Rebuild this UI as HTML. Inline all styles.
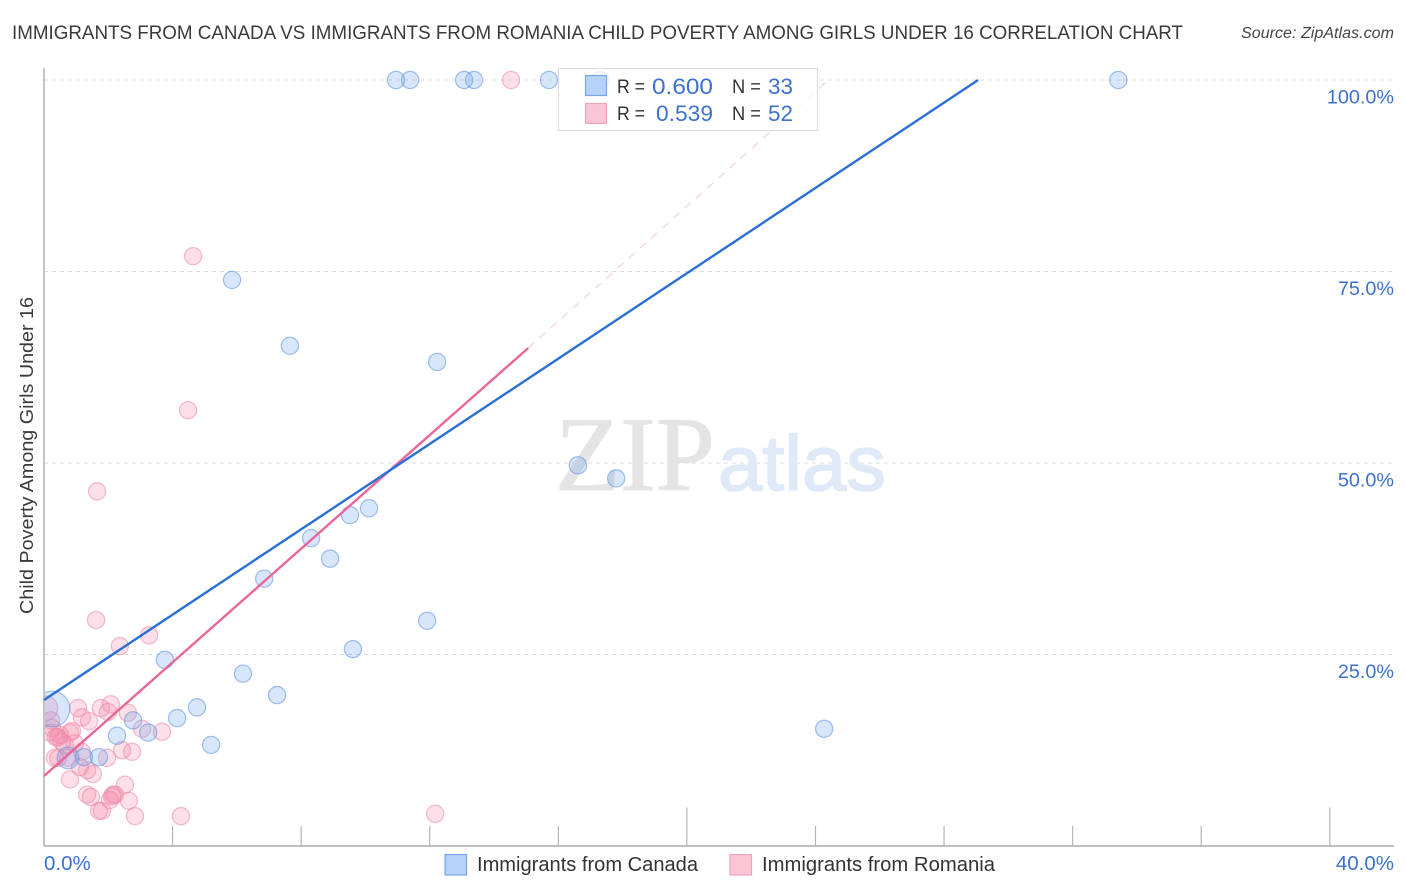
<!DOCTYPE html>
<html lang="en">
<head>
<meta charset="utf-8">
<title>Immigrants from Canada vs Immigrants from Romania Child Poverty Correlation Chart</title>
<style>
html,body{margin:0;padding:0;background:#fff;width:1406px;height:892px;overflow:hidden}
svg{display:block}
text{font-family:"Liberation Sans",sans-serif}
</style>
</head>
<body>
<svg id="chart" xmlns="http://www.w3.org/2000/svg" width="1406" height="892" viewBox="0 0 1406 892">
  <defs><clipPath id="plot-clip"><rect x="45" y="60" width="1349" height="786"/></clipPath></defs>
  <rect x="0" y="0" width="1406" height="892" fill="#fff"/>
  <text x="12" y="39" font-size="19.5" fill="#3a3a3a" textLength="1171" lengthAdjust="spacingAndGlyphs">IMMIGRANTS FROM CANADA VS IMMIGRANTS FROM ROMANIA CHILD POVERTY AMONG GIRLS UNDER 16 CORRELATION CHART</text>
  <text x="1241" y="38" font-size="15.5" font-style="italic" fill="#444" textLength="153" lengthAdjust="spacingAndGlyphs">Source: ZipAtlas.com</text>
  <g id="grid"></g>
  <g>
    <text x="555" y="490" font-size="106" fill="#e4e4e4" stroke="#e4e4e4" stroke-width="1" style="font-family:'Liberation Serif',serif" textLength="160" lengthAdjust="spacingAndGlyphs">ZIP</text>
    <text x="718" y="490" font-size="78" fill="#dfe9f8" stroke="#dfe9f8" stroke-width="1.6" textLength="168" lengthAdjust="spacingAndGlyphs">atlas</text>
  </g>
  <g id="axes"></g>
  <text transform="translate(33,455.5) rotate(-90)" text-anchor="middle" font-size="18.5" fill="#3a3a3a" textLength="317" lengthAdjust="spacingAndGlyphs">Child Poverty Among Girls Under 16</text>
  <g id="marks" clip-path="url(#plot-clip)"></g>
  <g id="lines"></g>
  <g>
    <rect x="558.5" y="68.5" width="259" height="62" fill="#fff" fill-opacity="0.8" stroke="#ddd" stroke-width="1.2"/>
    <rect x="585.5" y="75.5" width="21" height="20" fill="#b6d1f7" stroke="#79a6e4" stroke-width="1.2"/>
    <rect x="585.5" y="103.5" width="21" height="20" fill="#fcc5d6" stroke="#f2a3bb" stroke-width="1.2"/>
    <text x="617" y="93" font-size="19" fill="#333" textLength="28" lengthAdjust="spacingAndGlyphs">R =</text>
    <text x="652" y="94" font-size="22" fill="#3b71cf" textLength="61" lengthAdjust="spacingAndGlyphs">0.600</text>
    <text x="732" y="93" font-size="19" fill="#333" textLength="29" lengthAdjust="spacingAndGlyphs">N =</text>
    <text x="768" y="94" font-size="22" fill="#3b71cf" textLength="25" lengthAdjust="spacingAndGlyphs">33</text>
    <text x="617" y="120" font-size="19" fill="#333" textLength="28" lengthAdjust="spacingAndGlyphs">R =</text>
    <text x="656" y="121" font-size="22" fill="#3b71cf" textLength="57" lengthAdjust="spacingAndGlyphs">0.539</text>
    <text x="732" y="120" font-size="19" fill="#333" textLength="29" lengthAdjust="spacingAndGlyphs">N =</text>
    <text x="768" y="121" font-size="22" fill="#3b71cf" textLength="25" lengthAdjust="spacingAndGlyphs">52</text>
  </g>
  <g>
    <rect x="445" y="854.5" width="21.5" height="20.5" fill="#b6d1f7" stroke="#79a6e4" stroke-width="1.2"/>
    <text x="477" y="871" font-size="20" fill="#333" textLength="221" lengthAdjust="spacingAndGlyphs">Immigrants from Canada</text>
    <rect x="730" y="854.5" width="21.5" height="20.5" fill="#fcc5d6" stroke="#f2a3bb" stroke-width="1.2"/>
    <text x="762" y="871" font-size="20" fill="#333" textLength="233" lengthAdjust="spacingAndGlyphs">Immigrants from Romania</text>
  </g>
</svg>
<script>
// Chart data (percent units)
const yTickValues = [25, 50, 75, 100];
const yTickLabels = ['25.0%', '50.0%', '75.0%', '100.0%'];
const xTickValues = [4, 8, 12, 16, 20, 24, 28, 32, 36, 40];
const xMajorTicks = [20, 40];
const xEndValues = [0, 40];
const xEndLabels = ['0.0%', '40.0%'];

const canadaX = [10.95, 11.39, 13.07, 13.38, 15.71, 17.30, 33.42, 5.85, 7.65, 12.23, 16.61, 17.80, 10.11, 9.52, 8.31, 8.90, 6.85, 11.92, 9.61, 3.76, 6.19, 7.25, 4.76, 4.14, 2.77, 3.24, 2.27, 5.20, 24.27, 1.24, 1.71, 0.75, 0.25];
const canadaY = [100, 100, 100, 100, 100, 100, 100, 73.9, 65.3, 63.2, 49.7, 48.0, 44.1, 43.2, 40.2, 37.5, 34.9, 29.4, 25.7, 24.3, 22.5, 19.7, 18.1, 16.7, 16.4, 14.8, 14.4, 13.2, 15.3, 11.6, 11.6, 11.5, 17.9];
const canadaWeight = [1, 1, 1, 1, 1, 1, 1, 1, 1, 1, 1, 1, 1, 1, 1, 1, 1, 1, 1, 1, 1, 1, 1, 1, 1, 1, 1, 1, 1, 1, 1, 1.6, 4.3];

const romaniaX = [14.53, 4.64, 4.48, 1.65, 1.62, 3.27, 2.36, 1.06, 1.77, 2.08, 1.18, 1.40, 1.99, 2.61, 3.05, 3.67, 0.87, 0.22, 0.19, 0.25, 0.44, 0.56, 0.65, 0.96, 0.34, 0.44, 0.75, 1.96, 2.43, 2.74, 1.12, 1.34, 1.52, 0.81, 2.52, 1.34, 1.46, 2.12, 2.21, 2.15, 2.05, 2.64, 1.71, 1.80, 2.83, 4.26, 12.17, 0.05, 0.37, 0.50, 0.81, 1.18];
const romaniaY = [100, 77.0, 56.9, 46.3, 29.5, 27.5, 26.1, 18.0, 18.0, 18.5, 16.8, 16.3, 17.5, 17.4, 15.3, 14.9, 15.0, 16.4, 14.8, 15.4, 14.2, 13.6, 13.2, 13.4, 11.5, 11.5, 11.5, 11.5, 12.5, 12.3, 10.3, 9.9, 9.4, 8.7, 8.0, 6.7, 6.4, 6.5, 6.7, 6.7, 6.0, 5.9, 4.6, 4.6, 3.9, 3.9, 4.2, 18.0, 14.2, 14.5, 14.8, 12.3];
const romaniaWeight = [1, 1, 1, 1, 1, 1, 1, 1, 1, 1, 1, 1, 1, 1, 1, 1, 1, 1, 1, 1, 1, 1, 1, 1, 1, 1, 1, 1, 1, 1, 1, 1, 1, 1, 1, 1, 1, 1, 1, 1, 1, 1, 1, 1, 1, 1, 1, 2, 1, 1, 1, 1];

const canadaTrendX = [0, 29.06];
const canadaTrendY = [19.06, 100];
const romaniaTrendX = [0, 15.06];
const romaniaTrendY = [9.14, 65.0];
const romaniaExtendX = [15.06, 24.4];
const romaniaExtendY = [65.0, 100];

const SVGNS = 'http://www.w3.org/2000/svg';
function xScale(v) { return 44 + v * 32.145; }
function yScale(v) { return 846 - v * 7.66; }
function make(tag, parent) {
  const el = document.createElementNS(SVGNS, tag);
  parent.appendChild(el);
  return el;
}
function setAll(el, pairs) {
  for (const k in pairs) el.setAttribute(k, pairs[k]);
}

const grid = document.getElementById('grid');
const axes = document.getElementById('axes');
const marks = document.getElementById('marks');
const lines = document.getElementById('lines');

yTickValues.forEach(function (v, i) {
  const g = make('line', grid);
  
  
  setAll(g, { x1: 44, x2: 1394, y1: yScale(v), y2: yScale(v), stroke: '#dcdcdc', 'stroke-width': 1, 'stroke-dasharray': '4 4' });
  const t = make('text', axes);
  
  
  setAll(t, { x: 1394, y: yScale(v) + 23.5, 'text-anchor': 'end', 'font-size': 19.8, fill: '#3b71cf' });
  t.textContent = yTickLabels[i];
});

const yAxis = make('line', axes);


setAll(yAxis, { x1: 44, x2: 44, y1: 68, y2: 846, stroke: '#aaa', 'stroke-width': 1.4 });

const xAxis = make('line', axes);


setAll(xAxis, { x1: 44, x2: 1394, y1: 846, y2: 846, stroke: '#aaa', 'stroke-width': 1.4 });

xTickValues.forEach(function (v) {
  const tick = make('line', axes);
  
  
  const top = xMajorTicks.indexOf(v) >= 0 ? 807.5 : 826;
  setAll(tick, { x1: xScale(v), x2: xScale(v), y1: top, y2: 846, stroke: '#b4b4b4', 'stroke-width': 1.2 });
});

xEndValues.forEach(function (v, i) {
  const t = make('text', axes);
  
  
  const isFirst = i === 0;
  setAll(t, { x: isFirst ? xScale(v) : 1394, y: 870, 'text-anchor': isFirst ? 'start' : 'end', 'font-size': 20.5, fill: '#3b71cf' });
  t.textContent = xEndLabels[i];
});

function drawPoints(xs, ys, ws, fill, stroke, name) {
  xs.forEach(function (x, i) {
    const c = make('circle', marks);
    
    
    setAll(c, { cx: xScale(x), cy: yScale(ys[i]), r: 8.6 * Math.sqrt(ws[i]), fill: fill, 'fill-opacity': 0.27, stroke: stroke, 'stroke-opacity': 0.58, 'stroke-width': 1.2 });
  });
}
drawPoints(romaniaX, romaniaY, romaniaWeight, '#f58aaa', '#ee8aa9', 'romania-point');
drawPoints(canadaX, canadaY, canadaWeight, '#6ea3ec', '#5f93e0', 'canada-point');

function drawLine(xs, ys, stroke, width, dash, name) {
  const l = make('line', lines);
  
  
  setAll(l, { x1: xScale(xs[0]), y1: yScale(ys[0]), x2: xScale(xs[1]), y2: yScale(ys[1]), stroke: stroke, 'stroke-width': width, 'stroke-linecap': 'butt' });
  if (dash) l.setAttribute('stroke-dasharray', dash);
}
drawLine(romaniaExtendX, romaniaExtendY, '#f3c6d4', 1, '8 7', 'romania-trend-extension');
drawLine(romaniaTrendX, romaniaTrendY, '#e8689a', 2.4, null, 'romania-trend-line');
drawLine(canadaTrendX, canadaTrendY, '#2a6fd6', 2.4, null, 'canada-trend-line');
</script>
</body>
</html>
